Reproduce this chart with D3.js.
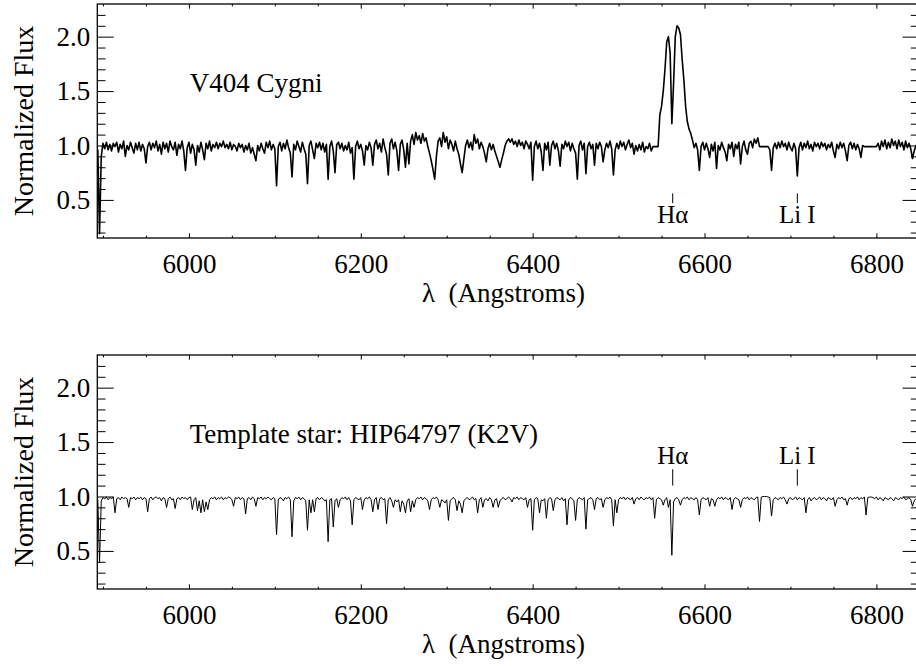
<!DOCTYPE html>
<html>
<head>
<meta charset="utf-8">
<script src="https://cdn.jsdelivr.net/npm/d3@7"></script>
</head>
<body style="margin:0; background:#fff">
<div class="graph"></div>
<script>
// wavelength grid of both spectra (Angstroms)
const lambdaStart = 5894;
const lambdaStep = 2;

// V404 Cygni, normalized flux, 10 values per row (20 A)
const v404Flux = [
  0.96, 0.19, 0.90, 1.02, 0.97, 1.03, 0.96, 1.01, 0.95, 1.02, // 5894
  0.99, 1.03, 0.94, 1.01, 0.97, 1.04, 0.90, 1.00, 0.96, 1.03, // 5914
  0.98, 0.93, 1.02, 0.96, 1.03, 0.95, 1.01, 0.97, 0.84, 0.99, // 5934
  1.03, 0.96, 1.02, 0.98, 1.04, 0.95, 1.01, 0.92, 1.03, 0.97, // 5954
  1.02, 0.94, 1.04, 0.99, 0.96, 1.03, 0.91, 1.01, 0.97, 1.04, // 5974
  0.95, 0.77, 0.98, 1.03, 0.93, 1.01, 0.96, 0.82, 1.00, 0.94, // 5994
  1.03, 0.96, 0.87, 1.02, 0.97, 1.04, 0.95, 1.01, 0.98, 1.03, // 6014
  0.97, 1.02, 0.99, 1.04, 0.98, 1.01, 0.97, 1.03, 0.96, 1.01, // 6034
  0.99, 0.95, 1.02, 0.98, 1.01, 0.94, 1.00, 0.96, 1.02, 0.93, // 6054
  0.98, 0.92, 0.86, 1.00, 0.95, 1.02, 0.97, 0.93, 1.03, 0.98, // 6074
  1.04, 0.96, 1.01, 0.97, 0.63, 0.99, 1.03, 0.95, 1.02, 0.97, // 6094
  1.05, 0.98, 0.93, 0.71, 1.01, 0.96, 1.04, 0.99, 0.94, 1.03, // 6114
  0.97, 0.92, 0.65, 1.00, 1.04, 0.96, 0.88, 1.02, 0.98, 1.03, // 6134
  0.96, 1.02, 0.94, 1.01, 0.69, 0.99, 1.04, 0.95, 0.75, 1.01, // 6154
  1.03, 0.97, 1.02, 0.95, 1.00, 0.96, 1.03, 0.93, 0.98, 0.69, // 6174
  0.99, 1.04, 0.97, 1.01, 0.95, 0.82, 1.00, 0.96, 1.03, 0.98, // 6194
  0.82, 1.01, 1.05, 0.97, 1.02, 0.94, 1.06, 0.98, 0.92, 0.73, // 6214
  1.02, 1.06, 0.97, 1.03, 0.95, 0.77, 1.01, 1.05, 0.96, 0.80, // 6234
  1.02, 0.83, 1.04, 1.10, 1.01, 1.12, 1.05, 1.09, 1.02, 1.11, // 6254
  1.04, 1.07, 0.99, 0.93, 0.86, 0.78, 0.69, 0.90, 1.04, 1.07, // 6274
  0.99, 1.12, 1.03, 1.08, 0.97, 1.05, 1.01, 0.95, 1.04, 0.97, // 6294
  0.92, 0.83, 0.75, 0.88, 1.00, 1.05, 0.98, 1.03, 0.96, 1.10, // 6314
  1.02, 1.06, 0.97, 1.03, 0.99, 0.93, 0.85, 0.97, 1.02, 0.96, // 6334
  1.01, 0.95, 0.90, 0.85, 0.80, 0.87, 0.93, 1.00, 1.04, 1.06, // 6354
  1.03, 1.06, 1.01, 1.04, 0.99, 1.05, 1.00, 1.03, 0.97, 1.04, // 6374
  1.01, 0.97, 1.03, 0.68, 0.99, 1.04, 0.97, 1.02, 0.94, 0.77, // 6394
  1.02, 0.96, 1.03, 0.82, 1.00, 1.04, 0.97, 1.02, 0.95, 0.81, // 6414
  1.01, 0.97, 1.04, 0.99, 1.03, 0.95, 1.02, 0.97, 0.93, 0.69, // 6434
  1.00, 1.04, 0.96, 1.02, 0.74, 0.99, 1.03, 0.97, 1.01, 0.82, // 6454
  1.02, 0.97, 1.03, 0.99, 0.85, 0.96, 1.02, 0.98, 1.04, 0.97, // 6474
  0.73, 0.96, 1.02, 0.97, 1.04, 0.99, 1.03, 0.96, 1.01, 1.05, // 6494
  0.98, 1.02, 0.92, 1.00, 0.95, 1.01, 0.96, 1.03, 0.94, 0.99, // 6514
  0.97, 1.02, 0.95, 0.99, 0.99, 0.99, 0.99, 1.28, 1.36, 1.50, // 6534
  1.70, 1.95, 2.00, 1.85, 1.20, 1.57, 2.00, 2.10, 2.08, 2.02, // 6554
  1.79, 1.60, 1.36, 1.22, 1.15, 1.11, 1.05, 0.98, 1.02, 0.96, // 6574
  0.77, 0.99, 1.03, 0.96, 1.02, 0.97, 0.89, 1.01, 0.95, 1.03, // 6594
  0.79, 1.00, 0.96, 1.03, 0.98, 0.94, 0.86, 1.01, 0.97, 1.03, // 6614
  0.90, 1.01, 0.97, 1.03, 0.83, 0.99, 1.04, 0.96, 0.92, 1.02, // 6634
  1.04, 0.98, 1.06, 1.02, 1.07, 0.99, 0.99, 0.99, 0.99, 0.99, // 6654
  0.99, 0.96, 0.77, 0.98, 1.02, 0.97, 1.03, 0.98, 1.04, 0.99, // 6674
  1.02, 0.96, 1.03, 0.98, 0.95, 1.02, 0.97, 0.72, 0.98, 1.03, // 6694
  0.96, 1.02, 0.98, 1.04, 0.97, 1.01, 0.95, 1.03, 0.99, 1.02, // 6714
  0.97, 1.03, 0.99, 1.02, 0.96, 1.01, 0.98, 1.03, 0.95, 0.89, // 6734
  1.01, 0.97, 1.03, 0.98, 1.02, 0.95, 0.86, 1.00, 1.03, 0.97, // 6754
  1.02, 0.96, 1.01, 0.97, 0.89, 1.00, 0.99, 0.99, 0.99, 0.99, // 6774
  0.99, 0.99, 0.99, 0.99, 1.02, 0.96, 1.04, 0.99, 1.05, 0.97, // 6794
  1.03, 0.98, 1.06, 1.00, 1.04, 0.97, 1.05, 0.99, 1.03, 0.96, // 6814
  1.04, 0.98, 1.02, 0.97, 0.88, 0.95, 1.00, 0.97, 0.99, 1.00  // 6834
];

// HIP64797 template, normalized flux, same grid
const templateFlux = [
  0.97, 0.39, 0.96, 0.99, 0.98, 0.995, 0.97, 0.99, 0.98, 0.995, // 5894
  0.85, 0.98, 0.99, 0.97, 0.995, 0.98, 0.99, 0.98, 0.90, 0.99, // 5914
  0.98, 0.995, 0.97, 0.99, 0.98, 0.995, 0.97, 0.99, 0.98, 0.86, // 5934
  0.98, 0.995, 0.97, 0.99, 0.995, 0.98, 0.99, 0.96, 0.99, 0.98, // 5954
  0.90, 0.98, 0.995, 0.97, 0.98, 0.89, 0.98, 0.99, 0.97, 0.995, // 5974
  0.98, 0.99, 0.97, 0.99, 0.995, 0.88, 0.97, 0.99, 0.87, 0.96, // 5994
  0.85, 0.97, 0.86, 0.95, 0.88, 0.97, 0.99, 0.98, 0.995, 0.97, // 6014
  0.99, 0.98, 0.995, 0.97, 0.99, 0.98, 0.995, 0.99, 0.97, 0.91, // 6034
  0.99, 0.98, 0.995, 0.97, 0.99, 0.98, 0.84, 0.98, 0.99, 0.97, // 6054
  0.995, 0.98, 0.91, 0.99, 0.98, 0.995, 0.97, 0.99, 0.98, 0.995, // 6074
  0.98, 0.97, 0.99, 0.98, 0.65, 0.97, 0.99, 0.98, 0.96, 0.99, // 6094
  0.98, 0.995, 0.97, 0.63, 0.96, 0.99, 0.98, 0.995, 0.97, 0.99, // 6114
  0.98, 0.96, 0.69, 0.97, 0.85, 0.97, 0.86, 0.98, 0.99, 0.97, // 6134
  0.99, 0.98, 0.96, 0.97, 0.585, 0.97, 0.98, 0.72, 0.96, 0.98, // 6154
  0.90, 0.97, 0.99, 0.98, 0.995, 0.97, 0.99, 0.96, 0.74, 0.97, // 6174
  0.99, 0.98, 0.97, 0.99, 0.88, 0.97, 0.99, 0.98, 0.995, 0.97, // 6194
  0.86, 0.97, 0.99, 0.88, 0.98, 0.99, 0.97, 0.98, 0.75, 0.97, // 6214
  0.99, 0.96, 0.90, 0.97, 0.95, 0.97, 0.86, 0.96, 0.93, 0.85, // 6234
  0.96, 0.98, 0.86, 0.96, 0.90, 0.97, 0.99, 0.98, 0.995, 0.97, // 6254
  0.99, 0.98, 0.96, 0.88, 0.97, 0.99, 0.98, 0.995, 0.97, 0.90, // 6274
  0.97, 0.96, 0.94, 0.97, 0.78, 0.96, 0.98, 0.99, 0.97, 0.87, // 6294
  0.96, 0.93, 0.85, 0.96, 0.98, 0.99, 0.97, 0.98, 0.995, 0.97, // 6314
  0.98, 0.85, 0.97, 0.99, 0.90, 0.97, 0.98, 0.96, 0.99, 0.97, // 6334
  0.90, 0.97, 0.98, 0.90, 0.96, 0.98, 0.99, 0.97, 0.98, 0.995, // 6354
  0.98, 0.95, 0.99, 0.98, 0.995, 0.97, 0.99, 0.98, 0.97, 0.99, // 6374
  0.90, 0.97, 0.98, 0.69, 0.97, 0.99, 0.98, 0.85, 0.97, 0.96, // 6394
  0.98, 0.80, 0.97, 0.99, 0.98, 0.87, 0.97, 0.99, 0.98, 0.97, // 6414
  0.99, 0.96, 0.98, 0.74, 0.97, 0.99, 0.98, 0.96, 0.78, 0.97, // 6434
  0.99, 0.98, 0.97, 0.99, 0.70, 0.97, 0.98, 0.99, 0.97, 0.88, // 6454
  0.98, 0.99, 0.97, 0.98, 0.90, 0.97, 0.99, 0.98, 0.995, 0.97, // 6474
  0.73, 0.97, 0.85, 0.97, 0.99, 0.98, 0.995, 0.97, 0.99, 0.98, // 6494
  0.97, 0.99, 0.93, 0.98, 0.99, 0.97, 0.995, 0.98, 0.97, 0.99, // 6514
  0.98, 0.995, 0.97, 0.99, 0.80, 0.97, 0.99, 0.98, 0.97, 0.92, // 6534
  0.97, 0.99, 0.90, 0.97, 0.46, 0.95, 0.98, 0.99, 0.97, 0.92, // 6554
  0.97, 0.99, 0.98, 0.995, 0.97, 0.99, 0.98, 0.97, 0.99, 0.97, // 6574
  0.83, 0.97, 0.99, 0.98, 0.97, 0.99, 0.91, 0.98, 0.97, 0.91, // 6594
  0.97, 0.99, 0.98, 0.995, 0.97, 0.99, 0.98, 0.97, 0.99, 0.88, // 6614
  0.97, 0.99, 0.98, 0.97, 0.90, 0.97, 0.99, 0.98, 0.995, 0.97, // 6634
  0.99, 0.98, 0.97, 0.99, 0.995, 0.77, 0.995, 1.00, 1.00, 1.00, // 6654
  0.995, 0.99, 0.82, 0.97, 0.99, 0.98, 0.97, 0.99, 0.98, 0.995, // 6674
  0.97, 0.93, 0.98, 0.99, 0.97, 0.98, 0.995, 0.97, 0.99, 0.98, // 6694
  0.97, 0.99, 0.85, 0.97, 0.99, 0.96, 0.98, 0.99, 0.97, 0.98, // 6714
  0.995, 0.97, 0.99, 0.98, 0.96, 0.99, 0.98, 0.97, 0.99, 0.91, // 6734
  0.97, 0.99, 0.98, 0.995, 0.97, 0.98, 0.92, 0.98, 0.99, 0.97, // 6754
  0.99, 0.98, 0.995, 0.97, 0.99, 0.98, 0.995, 0.83, 0.99, 0.995, // 6774
  0.995, 0.99, 0.98, 0.995, 0.97, 0.99, 0.98, 0.96, 0.99, 0.98, // 6794
  0.97, 0.99, 0.98, 0.96, 0.99, 0.98, 0.97, 0.99, 0.98, 0.995, // 6814
  0.97, 0.98, 0.99, 0.97, 0.91, 0.96, 0.98, 0.99, 0.97, 0.98  // 6834
];

const xDomain = [5893.4, 6849.6];
const yDomain = [0.15, 2.3];
const xTicks = [6000, 6200, 6400, 6600, 6800];
const yTicks = [0.5, 1.0, 1.5, 2.0];

const panelTitles = ["V404 Cygni", "Template star: HIP64797 (K2V)"];
const titleAt = [6001, 1.49];
const lineNames = ["H\u03b1", "Li I"];
const lineWaves = [6563, 6708];
// marker tick (from, to) and label baseline in flux units, per panel
const markerTop = [[0.47, 0.56], [1.10, 1.25]];
const markerLabel = [0.29, 1.30];

const fontName = "Liberation Serif";

let w = 916;
let h = 666;

let svg = d3.select(".graph")
    .append("svg")
    .attr("width", w)
    .attr("height", h)
    .attr("font-family", fontName);
svg.append("rect").attr("width", w).attr("height", h).attr("fill", "#fff");

let left = 97.3, right = 919;
let x = d3.scaleLinear().domain(xDomain).range([left, right]);

function drawPanel(k, top, bottom, flux, clipId) {
    let y = d3.scaleLinear().domain(yDomain).range([bottom, top]);
    let pw = right - left, ph = bottom - top;
    let g = svg.append("g");

    g.append("clipPath").attr("id", clipId)
        .append("rect")
        .attr("x", left).attr("y", top)
        .attr("width", pw).attr("height", ph);

    let pts = flux.map(function (f, i) { return [lambdaStart + i * lambdaStep, f]; });
    let line = d3.line()
        .x(function (d) { return x(d[0]); })
        .y(function (d) { return y(d[1]); });

    g.append("path")
        .datum(pts)
        .attr("clip-path", "url(#" + clipId + ")")
        .attr("fill", "none")
        .attr("stroke", "#000")
        .attr("stroke-width", k == 0 ? 1.6 : 1)
        .attr("stroke-linejoin", "round")
        .attr("d", line);

    let xMinor = d3.range(5900, 6850, 50).filter(function (v) { return xTicks.indexOf(v) < 0; });
    let yMinor = d3.range(2, 23).map(function (v) { return v / 10; }).filter(function (v) { return yTicks.indexOf(v) < 0; });
    let xMaj = ph * 0.02, yMaj = pw * 0.02;

    // bottom axis
    g.append("g")
        .attr("transform", "translate(0," + bottom + ")")
        .call(d3.axisBottom(x).tickValues(xTicks).tickSizeInner(-xMaj).tickSizeOuter(0).tickPadding(16).tickFormat(d3.format("d")));
    g.append("g")
        .attr("transform", "translate(0," + bottom + ")")
        .call(d3.axisBottom(x).tickValues(xMinor).tickSizeInner(-xMaj / 2).tickSizeOuter(0).tickFormat(""));
    // top axis
    g.append("g")
        .attr("transform", "translate(0," + top + ")")
        .call(d3.axisTop(x).tickValues(xTicks).tickSizeInner(-xMaj).tickSizeOuter(0).tickFormat(""));
    g.append("g")
        .attr("transform", "translate(0," + top + ")")
        .call(d3.axisTop(x).tickValues(xMinor).tickSizeInner(-xMaj / 2).tickSizeOuter(0).tickFormat(""));
    // left axis
    g.append("g")
        .attr("transform", "translate(" + left + ",0)")
        .call(d3.axisLeft(y).tickValues(yTicks).tickSizeInner(-yMaj).tickSizeOuter(0).tickPadding(7).tickFormat(d3.format(".1f")));
    g.append("g")
        .attr("transform", "translate(" + left + ",0)")
        .call(d3.axisLeft(y).tickValues(yMinor).tickSizeInner(-yMaj / 2).tickSizeOuter(0).tickFormat(""));
    // right axis
    g.append("g")
        .attr("transform", "translate(" + right + ",0)")
        .call(d3.axisRight(y).tickValues(yTicks).tickSizeInner(-yMaj).tickSizeOuter(0).tickFormat(""));
    g.append("g")
        .attr("transform", "translate(" + right + ",0)")
        .call(d3.axisRight(y).tickValues(yMinor).tickSizeInner(-yMaj / 2).tickSizeOuter(0).tickFormat(""));

    g.selectAll(".domain").remove();
    g.selectAll("g").attr("font-family", fontName).attr("font-size", "27px");
    g.selectAll(".tick line").attr("stroke", "#000").attr("stroke-width", 1);
    g.selectAll(".tick text")
        .attr("font-family", fontName)
        .attr("font-size", "27px")
        .attr("fill", "#000");

    g.append("rect")
        .attr("x", left).attr("y", top)
        .attr("width", pw).attr("height", ph)
        .attr("fill", "none")
        .attr("stroke", "#000")
        .attr("stroke-width", 1.3);

    g.append("text")
        .attr("transform", "translate(33," + (top + ph / 2) + ") rotate(-90)")
        .attr("text-anchor", "middle")
        .attr("font-family", fontName)
        .attr("font-size", "28px")
        .text("Normalized Flux");

    g.append("text")
        .attr("x", 422)
        .attr("y", bottom + 64)
        .attr("font-family", fontName)
        .attr("font-size", "27px")
        .attr("xml:space", "preserve")
        .text("\u03bb  (Angstroms)");

    g.append("text")
        .attr("x", x(titleAt[0]))
        .attr("y", y(titleAt[1]))
        .attr("font-family", fontName)
        .attr("font-size", "27px")
        .text(panelTitles[k]);

    lineWaves.forEach(function (lw, i) {
        g.append("line")
            .attr("x1", x(lw)).attr("x2", x(lw))
            .attr("y1", y(markerTop[k][0])).attr("y2", y(markerTop[k][1]))
            .attr("stroke", "#000")
            .attr("stroke-width", 1);
        g.append("text")
            .attr("x", x(lw))
            .attr("y", y(markerLabel[k]))
            .attr("text-anchor", "middle")
            .attr("font-family", fontName)
            .attr("font-size", "25px")
            .text(lineNames[i]);
    });
}

drawPanel(0, 4, 238, v404Flux, "clipTop");
drawPanel(1, 355, 589, templateFlux, "clipBottom");
</script>
</body>
</html>
